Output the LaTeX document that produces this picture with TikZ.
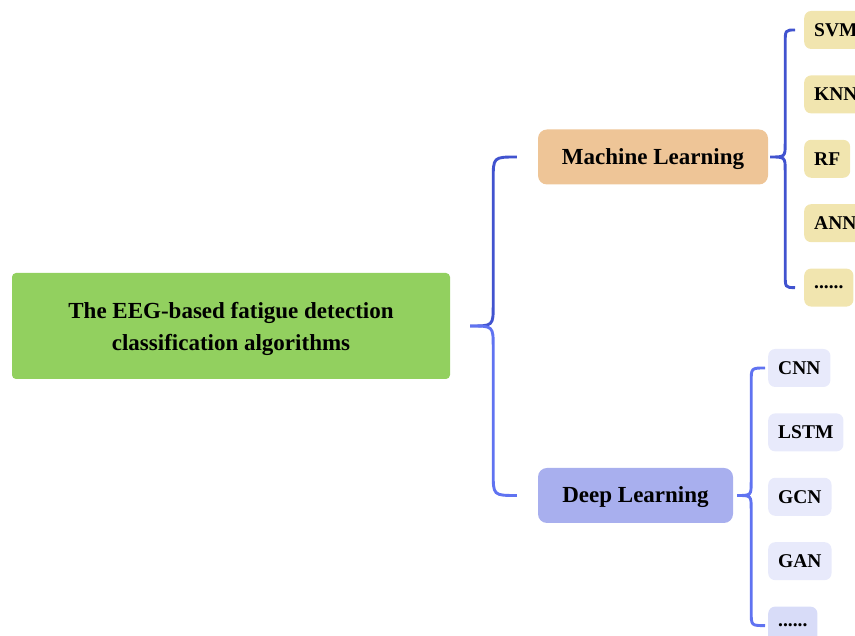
\documentclass[tikz,border=0pt]{standalone}
\usepackage{fontspec}
\setmainfont{Liberation Serif}
\usetikzlibrary{positioning,calc}
\definecolor{rootgreen}{HTML}{92D05F}
\definecolor{mlpeach}{HTML}{EEC597}
\definecolor{dlblue}{HTML}{A8AFEE}
\definecolor{mlleaf}{HTML}{F1E5AF}
\definecolor{dlleaf}{HTML}{E8EAFB}
\definecolor{dldots}{HTML}{D8DCF8}
\definecolor{bracedark}{HTML}{4153CF}
\definecolor{bracelight}{HTML}{6073F1}

\begin{document}
\begin{tikzpicture}[
  x=1pt, y=1pt,
  node distance=26pt,
  mainbox/.style={rounded corners=9pt, minimum height=55pt, align=center,
                  text height=18pt, text depth=3pt,
                  font=\fontsize{23}{32}\selectfont\bfseries},
  leaf/.style={rounded corners=7pt, minimum height=38pt, inner xsep=10pt, anchor=west,
               font=\fontsize{19.5}{24}\selectfont\bfseries},
  darkbrace/.style={draw=bracedark, line width=2.9pt},
  lightbrace/.style={draw=bracelight, line width=2.9pt}
]
\useasboundingbox (0,0) rectangle (855,636);
\clip (0,0) rectangle (855,636);

\node[mainbox, fill=rootgreen, rounded corners=4pt, minimum width=438pt, minimum height=106pt,
      text height=, text depth=0pt]
  (root) at (231,310) {The EEG-based fatigue detection\\classification algorithms};
\node[mainbox, fill=mlpeach, minimum width=230pt] (ml) at (653,479) {Machine Learning};
\node[mainbox, fill=dlblue, minimum width=195pt] (dl) at (635.5,140.5) {Deep Learning};

% machine learning leaves
\node[leaf, fill=mlleaf] (svm) at (804,606) {SVM};
\node[leaf, fill=mlleaf, below=26pt of svm.south west, anchor=north west] (knn) {KNN};
\node[leaf, fill=mlleaf, below=26pt of knn.south west, anchor=north west] (rf) {RF};
\node[leaf, fill=mlleaf, below=26pt of rf.south west, anchor=north west] (ann) {ANN};
\node[leaf, fill=mlleaf, below=26pt of ann.south west, anchor=north west] (mlmore) {......};

% deep learning leaves
\node[leaf, fill=dlleaf] (cnn) at (768,268) {CNN};
\node[leaf, fill=dlleaf, below=26pt of cnn.south west, anchor=north west] (lstm) {LSTM};
\node[leaf, fill=dlleaf, below=26pt of lstm.south west, anchor=north west] (gcn) {GCN};
\node[leaf, fill=dlleaf, below=26pt of gcn.south west, anchor=north west] (gan) {GAN};
\node[leaf, fill=dldots, below=26pt of gan.south west, anchor=north west] (dlmore) {......};

% big brace
\coordinate (tip) at ($(root.east)+(20,0)$);
\coordinate (bx) at ($(tip)+(23,0)$);
\coordinate (mlin) at ($(ml.west)+(-21,0)$);
\coordinate (dlin) at ($(dl.west)+(-21,0)$);
\draw[darkbrace] (mlin) .. controls (mlin -| bx) .. ($(mlin -| bx)+(0,-23)$)
  -- ($(tip -| bx)+(0,21)$) .. controls (tip -| bx) .. (tip);
\draw[lightbrace] (tip) .. controls (tip -| bx) .. ($(tip -| bx)+(0,-21)$)
  -- ($(dlin -| bx)+(0,23)$) .. controls (dlin -| bx) .. (dlin);

% machine learning brace
\coordinate (mltip) at ($(ml.east)+(2,0)$);
\coordinate (mlx) at ($(mltip)+(15,0)$);
\coordinate (mltop) at ($(svm.west)+(-9,0)$);
\coordinate (mlbot) at ($(mlmore.west)+(-9,0)$);
\draw[darkbrace] (mltop) .. controls (mltop -| mlx) .. ($(mltop -| mlx)+(0,-14)$)
  -- ($(mltip -| mlx)+(0,14)$) .. controls (mltip -| mlx) .. (mltip)
  .. controls (mltip -| mlx) .. ($(mltip -| mlx)+(0,-14)$)
  -- ($(mlbot -| mlx)+(0,14)$) .. controls (mlbot -| mlx) .. (mlbot);

% deep learning brace
\coordinate (dltip) at ($(dl.east)+(4,0)$);
\coordinate (dlx) at ($(dltip)+(14,0)$);
\coordinate (dltop) at ($(cnn.west)+(-3,0)$);
\coordinate (dlbot) at ($(dlmore.west)+(-3,0)$);
\draw[lightbrace] (dltop) .. controls (dltop -| dlx) .. ($(dltop -| dlx)+(0,-14)$)
  -- ($(dltip -| dlx)+(0,14)$) .. controls (dltip -| dlx) .. (dltip)
  .. controls (dltip -| dlx) .. ($(dltip -| dlx)+(0,-14)$)
  -- ($(dlbot -| dlx)+(0,14)$) .. controls (dlbot -| dlx) .. (dlbot);
\end{tikzpicture}
\end{document}
